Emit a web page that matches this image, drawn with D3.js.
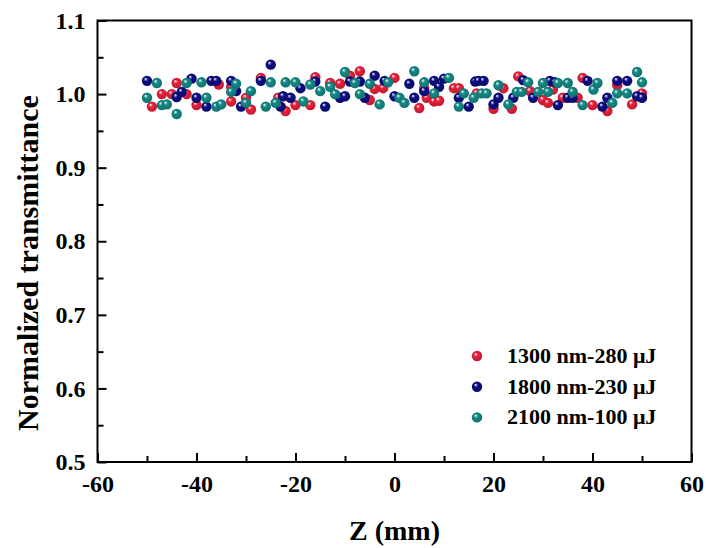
<!DOCTYPE html>
<html><head><meta charset="utf-8">
<script src="https://cdn.jsdelivr.net/npm/d3@7"></script>
<style>body{margin:0;background:#fff}svg{display:block}</style>
</head><body>
<svg id="c" width="706" height="548"></svg>
<script>
const seriesNames = ["1300 nm-280 μJ", "1800 nm-230 μJ", "2100 nm-100 μJ"];
const seriesColors = ["#e8203a", "#0c0c82", "#138a86"];
const redZ = [-49,-47,-45,-44,-42,-40,-35.5,-33,-33,-30,-29,-27,-23.5,-22,-20,-17,-16,-13,-11,-9,-7,-5,-4,-2.3,0,5,6,6.5,8,9,12,13,16.6,20,22,23.7,25,27.4,30,31,32,34,37,38,40,43,45,48,50];
const redT = [0.983,1.000,1.000,1.015,1.000,0.985,1.013,1.010,0.990,0.995,0.979,1.022,0.995,0.977,0.985,0.985,1.023,1.015,1.014,1.025,1.031,0.992,1.007,1.008,1.022,0.981,1.008,0.995,0.990,0.991,1.008,1.008,1.001,0.980,1.008,0.980,1.024,1.004,0.992,0.988,1.006,0.995,0.995,1.022,0.985,0.977,1.012,0.986,1.001];
const navyZ = [-50,-44,-43,-41,-40,-38,-37,-36,-33,-32,-31,-27,-25,-22.5,-23,-21,-19,-16,-14,-11,-10,-9,-7,-6,-4,-2,0,3,4,6,8,9,10,13,15,16.3,17,18,20,21,24,26,28,31.4,32.4,33,35,36,39,42,43,45,47,49,50];
const navyT = [1.018,0.996,1.003,1.021,0.995,0.983,1.018,1.018,1.018,1.004,0.983,1.018,1.040,0.997,0.983,0.995,1.008,1.017,0.983,0.995,0.997,1.017,1.017,0.995,1.025,1.018,0.997,1.014,0.995,1.004,1.018,1.010,1.021,0.995,0.983,1.017,1.018,1.018,0.986,0.995,0.995,1.019,0.995,1.018,1.016,0.985,0.995,0.995,1.018,0.983,0.995,1.018,1.018,0.997,0.995];
const tealZ = [-50,-48,-47,-46,-44,-42,-39,-38,-36,-35,-33,-32,-30,-29,-26,-25,-24,-22,-20,-18.4,-17,-15,-13,-12,-10,-8,-7,-5,-3,-1.3,1,2,4,6,8,11,13,14,16,17.6,18.6,21,23,24.7,25.7,27,29,30,31,33,35,36,38,40.2,41,44,45,47,49,50];
const tealT = [0.995,1.015,0.985,0.986,0.973,1.015,1.016,0.995,0.983,0.986,1.003,1.014,0.988,1.004,0.983,1.016,0.988,1.016,1.016,0.990,1.013,1.004,1.010,1.000,1.030,1.015,1.000,1.014,0.986,1.016,0.995,0.988,1.031,1.016,1.001,1.022,0.983,1.001,0.995,1.001,1.001,1.012,0.986,1.003,1.003,1.016,1.003,1.015,1.003,1.015,1.015,1.003,0.985,1.006,1.015,0.988,1.001,1.001,1.030,1.016];
const xTicks = [-60,-40,-20,0,20,40,60];
const yTicks = [0.5,0.6,0.7,0.8,0.9,1.0,1.1];

const svg = d3.select("#c");
const font = "'Liberation Serif','Times New Roman',serif";
const L = 97.5, R = 691.5, T = 20.5, B = 462;
const x = d3.scaleLinear().domain([-60,60]).range([L,R]);
const y = d3.scaleLinear().domain([0.5,1.1]).range([B,T]);

const defs = svg.append("defs");
seriesColors.forEach((c,i)=>{
  const g = defs.append("radialGradient").attr("id","g"+i)
    .attr("cx","0.5").attr("cy","0.5").attr("r","0.55").attr("fx","0.35").attr("fy","0.3");
  g.append("stop").attr("offset","0%").attr("stop-color","#ffffff");
  g.append("stop").attr("offset","35%").attr("stop-color",c);
  g.append("stop").attr("offset","100%").attr("stop-color",d3.color(c).darker(0.6));
});

svg.append("rect").attr("x",L).attr("y",T).attr("width",R-L).attr("height",B-T)
  .attr("fill","none").attr("stroke","#000").attr("stroke-width",2);

const xAxis = d3.axisBottom(x).tickValues(xTicks).tickSize(-9).tickPadding(13).tickFormat(d=>String(d));
const gx = svg.append("g").attr("transform",`translate(0,${B})`).call(xAxis);
gx.select(".domain").remove();
gx.selectAll("line").attr("stroke-width",2);
gx.selectAll("text").attr("font-family",font).attr("font-weight","bold").attr("font-size",24).attr("fill","#000");
const gxm = svg.append("g").attr("transform",`translate(0,${B})`)
  .call(d3.axisBottom(x).tickValues([-50,-30,-10,10,30,50]).tickSize(-6).tickFormat(""));
gxm.select(".domain").remove(); gxm.selectAll("line").attr("stroke-width",2);

const yAxis = d3.axisLeft(y).tickValues(yTicks).tickSize(-9).tickPadding(12).tickFormat(d3.format(".1f"));
const gy = svg.append("g").attr("transform",`translate(${L},0)`).call(yAxis);
gy.select(".domain").remove();
gy.selectAll("line").attr("stroke-width",2);
gy.selectAll("text").attr("font-family",font).attr("font-weight","bold").attr("font-size",24).attr("fill","#000");
const gym = svg.append("g").attr("transform",`translate(${L},0)`)
  .call(d3.axisLeft(y).tickValues([0.55,0.65,0.75,0.85,0.95,1.05]).tickSize(-6).tickFormat(""));
gym.select(".domain").remove(); gym.selectAll("line").attr("stroke-width",2);

svg.append("text").attr("x",(L+R)/2).attr("y",540).attr("text-anchor","middle")
  .attr("font-family",font).attr("font-weight","bold").attr("font-size",28).text("Z (mm)");
svg.append("text").attr("transform",`translate(38,263) rotate(-90)`).attr("text-anchor","middle")
  .attr("font-family",font).attr("font-weight","bold").attr("font-size",30).text("Normalized transmittance");

const series = [[redZ,redT],[navyZ,navyT],[tealZ,tealT]];
series.forEach((s,i)=>{
  const pts = s[0].map((z,j)=>({z, t:s[1][j]}));
  svg.append("g").selectAll("circle").data(pts).join("circle")
    .attr("cx",d=>x(d.z)).attr("cy",d=>y(d.t)).attr("r",5.2)
    .attr("fill",`url(#g${i})`);
});

const leg = svg.append("g");
seriesNames.forEach((n,i)=>{
  const ly = 356 + i*30.7;
  leg.append("circle").attr("cx",477).attr("cy",ly).attr("r",5.2).attr("fill",`url(#g${i})`);
  leg.append("text").attr("x",507).attr("y",ly+7).attr("font-family",font).attr("font-weight","bold")
    .attr("font-size",22).text(n);
});
</script>
</body></html>
